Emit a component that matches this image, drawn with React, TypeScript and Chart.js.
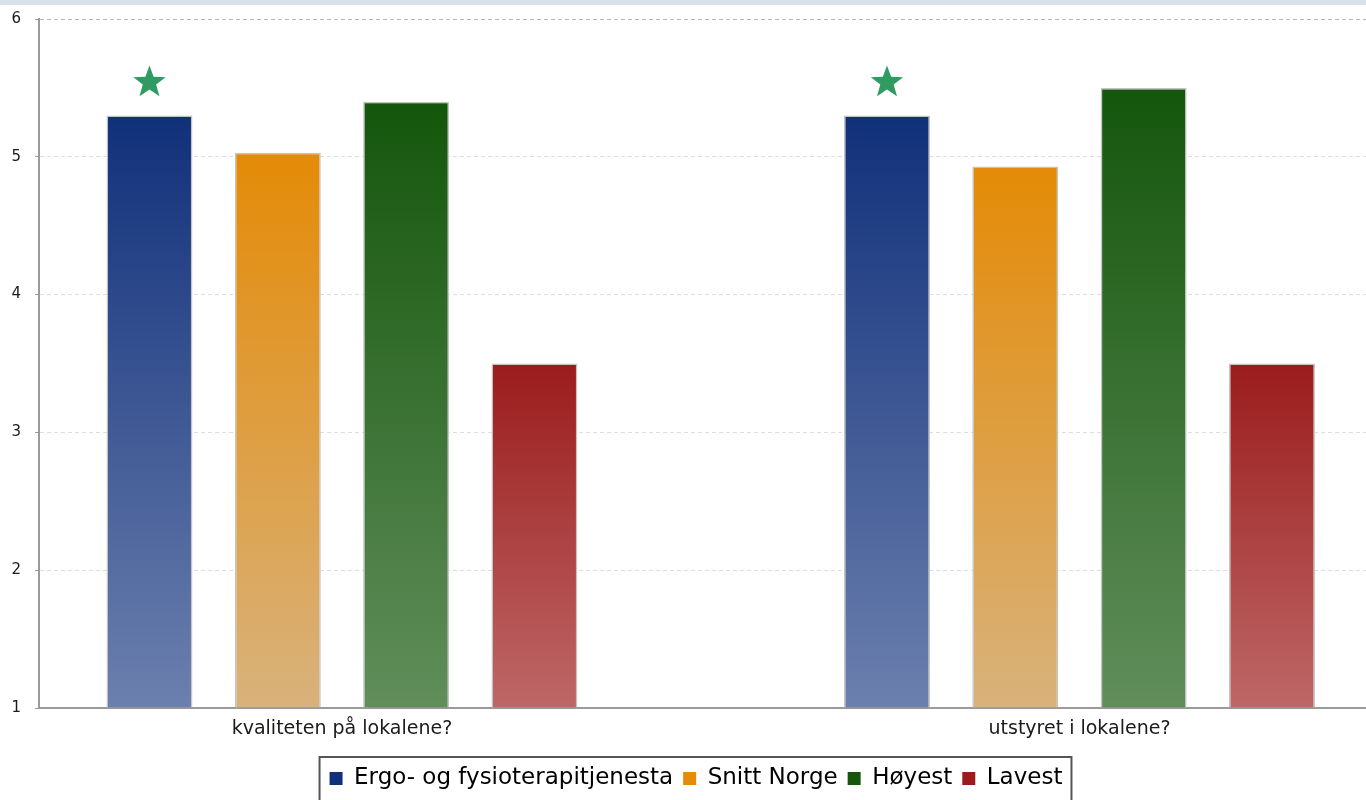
import React, { useEffect, useRef } from "react";
import { Chart, registerables } from "chart.js";

Chart.register(...registerables);

const categories = ["kvaliteten på lokalene?", "utstyret i lokalene?"];
const seriesNames = ["Ergo- og fysioterapitjenesta", "Snitt Norge", "Høyest", "Lavest"];
const ergoValues = [5.3, 5.3];
const snittValues = [5.03, 4.93];
const hoyestValues = [5.4, 5.5];
const lavestValues = [3.5, 3.5];
const starMarks = [true, true];
const yTicks = [1, 2, 3, 4, 5, 6];

const topColors = ["#10307a", "#e48b07", "#14560c", "#9b1c1c"];
const bottomColors = ["#6c80ae", "#d8b27c", "#618e5b", "#be6767"];

function drawStar(ctx: CanvasRenderingContext2D, cx: number, cy: number, R: number, r: number) {
  ctx.beginPath();
  for (let i = 0; i < 10; i++) {
    const ang = -Math.PI / 2 + (i * Math.PI) / 5;
    const rad = i % 2 === 0 ? R : r;
    const x = cx + rad * Math.cos(ang);
    const y = cy + rad * Math.sin(ang);
    if (i === 0) ctx.moveTo(x, y);
    else ctx.lineTo(x, y);
  }
  ctx.closePath();
  ctx.fill();
}

const starPlugin = {
  id: "starPlugin",
  afterDatasetsDraw(chart: any) {
    const meta = chart.getDatasetMeta(0);
    const ctx = chart.ctx;
    ctx.save();
    ctx.fillStyle = "#2f9a62";
    meta.data.forEach((bar: any, i: number) => {
      if (!starMarks[i]) return;
      drawStar(ctx, bar.x, bar.y - 33, 17, 7);
    });
    ctx.restore();
  },
};

const legendBoxPlugin = {
  id: "legendBox",
  afterDraw(chart: any) {
    const lg = chart.legend;
    if (!lg || !lg.legendHitBoxes || !lg.legendHitBoxes.length) return;
    const hb = lg.legendHitBoxes;
    let left = Infinity, right = -Infinity;
    hb.forEach((h: any) => {
      left = Math.min(left, h.left);
      right = Math.max(right, h.left + h.width);
    });
    const ctx = chart.ctx;
    ctx.save();
    ctx.strokeStyle = "#555";
    ctx.lineWidth = 2;
    ctx.strokeRect(left - 10, lg.top, right - left + 19, 60);
    ctx.restore();
  },
};

export default function App() {
  const ref = useRef<HTMLCanvasElement | null>(null);

  useEffect(() => {
    const canvas = ref.current;
    if (!canvas) return;
    const allValues = [ergoValues, snittValues, hoyestValues, lavestValues];

    const gradientFor = (si: number) => (context: any) => {
      const chart = context.chart;
      const { chartArea, scales } = chart;
      if (!chartArea || !scales.y || context.type !== "data") return topColors[si];
      const v = allValues[si][context.dataIndex];
      const yTop = scales.y.getPixelForValue(v);
      const yBot = scales.y.getPixelForValue(1);
      const g = chart.ctx.createLinearGradient(0, yTop, 0, yBot);
      g.addColorStop(0, topColors[si]);
      g.addColorStop(1, bottomColors[si]);
      return g;
    };

    const datasets = allValues.map((vals, si) => ({
      label: seriesNames[si],
      data: vals.map((v, i) => ({ x: i, y: v })),
      backgroundColor: gradientFor(si),
      borderColor: "#c4c4c4",
      borderWidth: 1.5,
      base: 1,
      categoryPercentage: 0.696,
      barPercentage: 0.67,
    }));

    const chart = new Chart(canvas, {
      type: "bar",
      data: { datasets: datasets as any },
      options: {
        animation: false,
        responsive: false,
        maintainAspectRatio: false,
        layout: { padding: { top: 19, left: 0, right: -26, bottom: 0 } },
        scales: {
          x: {
            type: "linear",
            offset: false,
            min: -0.4108,
            max: 1.3885,
            afterBuildTicks: (scale: any) => {
              scale.ticks = categories.map((_, i) => ({ value: i }));
            },
            afterFit: (scale: any) => {
              scale.height = 49;
            },
            grid: { display: false, drawTicks: false, offset: false },
            border: { display: true, color: "#9a9a9a", width: 2 },
            ticks: {
              autoSkip: false,
              maxRotation: 0,
              padding: 10,
              color: "#1a1a1a",
              font: { family: "DejaVu Sans", size: 19 },
              callback: (v: any) => categories[Number(v)] ?? "",
            },
          },
          y: {
            type: "linear",
            min: 1,
            max: 6,
            afterBuildTicks: (scale: any) => {
              scale.ticks = yTicks.map((v) => ({ value: v }));
            },
            afterFit: (scale: any) => {
              scale.width = 39;
              scale.paddingTop = 0;
            },
            grid: {
              color: (c: any) => (c.tick && c.tick.value === 6 ? "#b8b8b8" : "#dddddd"),
              lineWidth: 1,
              tickColor: "#9a9a9a",
              tickLength: 4,
              tickBorderDash: [],
            },
            border: { display: true, color: "#9a9a9a", width: 2, dash: [4, 3] },
            ticks: {
              padding: 14,
              color: "#1a1a1a",
              font: { family: "DejaVu Sans", size: 15 },
            },
          },
        },
        plugins: {
          legend: {
            position: "bottom",
            labels: {
              boxWidth: 13,
              boxHeight: 13,
              padding: 10,
              color: "#1a1a1a",
              font: { family: "DejaVu Sans", size: 23 },
              generateLabels: () =>
                seriesNames.map((n, i) => ({
                  text: n,
                  fillStyle: topColors[i],
                  strokeStyle: topColors[i],
                  lineWidth: 0,
                  hidden: false,
                  datasetIndex: i,
                })),
            },
          },
          tooltip: { enabled: false },
        },
      },
      plugins: [starPlugin, legendBoxPlugin],
    });
    return () => chart.destroy();
  }, []);

  return (
    <div style={{ position: "fixed", left: 0, top: 0, width: 1366, height: 800, overflow: "hidden", background: "#ffffff" }}>
      <div style={{ position: "absolute", left: 0, top: 0, width: 1366, height: 5, background: "#d6e3ed" }} />
      <canvas ref={ref} width={1366} height={800} style={{ position: "absolute", left: 0, top: 0, width: 1366, height: 800 }} />
    </div>
  );
}
